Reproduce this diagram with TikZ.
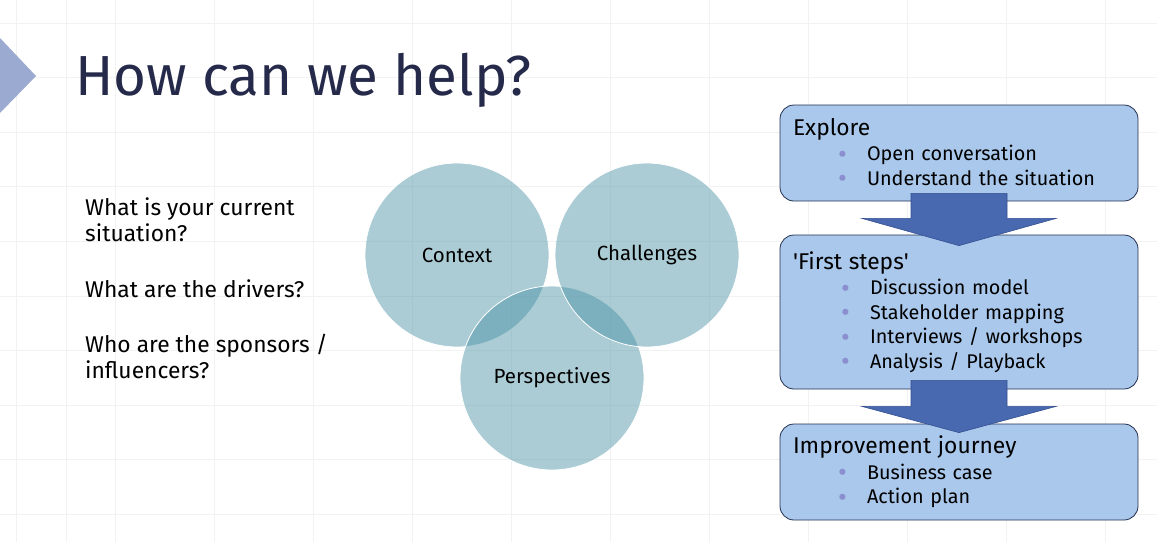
\documentclass[tikz,border=0pt]{standalone}
\usepackage{fontspec}
\setmainfont{Fira Sans}
\usepackage{tikz}
\usetikzlibrary{calc, positioning}
\definecolor{titlecolor}{RGB}{38, 42, 74}
\definecolor{markcolor}{RGB}{154, 170, 208}
\definecolor{venncolor}{RGB}{69, 144, 162}
\definecolor{stepcolor}{RGB}{169, 200, 236}
\definecolor{stepborder}{RGB}{36, 48, 80}
\definecolor{flowcolor}{RGB}{72, 104, 176}
\definecolor{flowborder}{RGB}{52, 80, 146}
\definecolor{bulletcolor}{RGB}{140, 143, 207}
\definecolor{gridcolor}{RGB}{242, 242, 242}
\newcommand{\stephead}[1]{{\fontsize{22.8}{24.5}\selectfont #1}}
\newcommand{\bitem}[2][45]{\hspace*{#1pt}\makebox[29pt][l]{\raisebox{-2.5pt}{\textcolor{bulletcolor}{\fontsize{27}{12}\selectfont\textbullet}}}#2}

\begin{document}
\begin{tikzpicture}[x=1pt, y=-1pt,
    gridline/.style={gridcolor, line width=0.7pt},
    title/.style={font=\fontsize{56.5}{60}\selectfont, text=titlecolor, inner sep=0pt},
    question/.style={font=\fontsize{22.8}{26}\selectfont, align=left, inner sep=0pt},
    venn/.style={circle, minimum size=184pt, inner sep=0pt, fill=venncolor, fill opacity=0.45, text opacity=1, draw=white, line width=0.8pt, font=\fontsize{20.5}{22}\selectfont},
    stepbox/.style={draw=stepborder, fill=stepcolor, rounded corners=14pt, line width=0.8pt, minimum width=358pt, text width=332pt, inner xsep=13pt, align=left, font=\fontsize{19.8}{24.5}\selectfont},
    flowarrow/.style={fill=flowcolor, draw=flowborder, line width=0.6pt}]
        % Page and faint grid
        \fill[white] (0, 0) rectangle (1157, 542);
        \useasboundingbox (0, 0) rectangle (1157, 542);
        \foreach \gx in {16, 66, 115, 214, 313, 412, 511, 610, 709, 808, 907, 1006, 1105}
            \draw[gridline] (\gx, 0) -- (\gx, 542);
        \foreach \gy in {23, 77.6, 132.2, 186.8, 241.4, 296, 350.6, 405.2, 459.8, 514.4}
            \draw[gridline] (0, \gy) -- (1157, \gy);
        
        % Title
        \fill[markcolor] (0, 38) -- (36, 76) -- (0, 113) -- cycle;
        \node[title, anchor=base west] (title) at (75, 95) {How can we help?};
        
        % Questions
        \node[question, anchor=north west] (questions) at (85, 198) {What is your current\\situation?\\[30pt]What are the drivers?\\[29pt]Who are the sponsors /\\influencers?};
        
        % Venn circles
        \node[venn] (context) at (457, 255) {Context};
        \node[venn] (perspectives) at (552, 378) {Perspectives};
        \node[venn] (challenges) at (647, 255) {Challenges};
        
        % Step boxes
        \node[stepbox, minimum height=96pt] (explore) at (959, 153) {\stephead{Explore}\\[1pt]\bitem{Open conversation}\\\bitem{Understand the situation}};
        \node[stepbox, minimum height=154pt] (firststeps) at (959, 312) {\stephead{\textquotesingle First steps\textquotesingle}\\[1pt]\bitem[48]{Discussion model}\\\bitem[48]{Stakeholder mapping}\\\bitem[48]{Interviews / workshops}\\\bitem[48]{Analysis / Playback}};
        \node[stepbox, minimum height=96pt] (journey) at (959, 472) {\stephead{Improvement journey}\\[1pt]\bitem{Business case}\\\bitem{Action plan}};
        
        % Block arrows between steps
        \filldraw[flowarrow] ($(explore.south)+(-48, -8)$) -- ($(explore.south)+(48, -8)$) -- ($(explore.south)+(48, 17)$) -- ($(explore.south)+(97, 17)$) -- ($(firststeps.north)+(0, 11)$) -- ($(explore.south)+(-97, 17)$) -- ($(explore.south)+(-48, 17)$) -- cycle;
        \filldraw[flowarrow] ($(firststeps.south)+(-48, -9)$) -- ($(firststeps.south)+(48, -9)$) -- ($(firststeps.south)+(48, 17)$) -- ($(firststeps.south)+(97, 17)$) -- ($(journey.north)+(0, 9)$) -- ($(firststeps.south)+(-97, 17)$) -- ($(firststeps.south)+(-48, 17)$) -- cycle;
    \end{tikzpicture}
\end{document}
